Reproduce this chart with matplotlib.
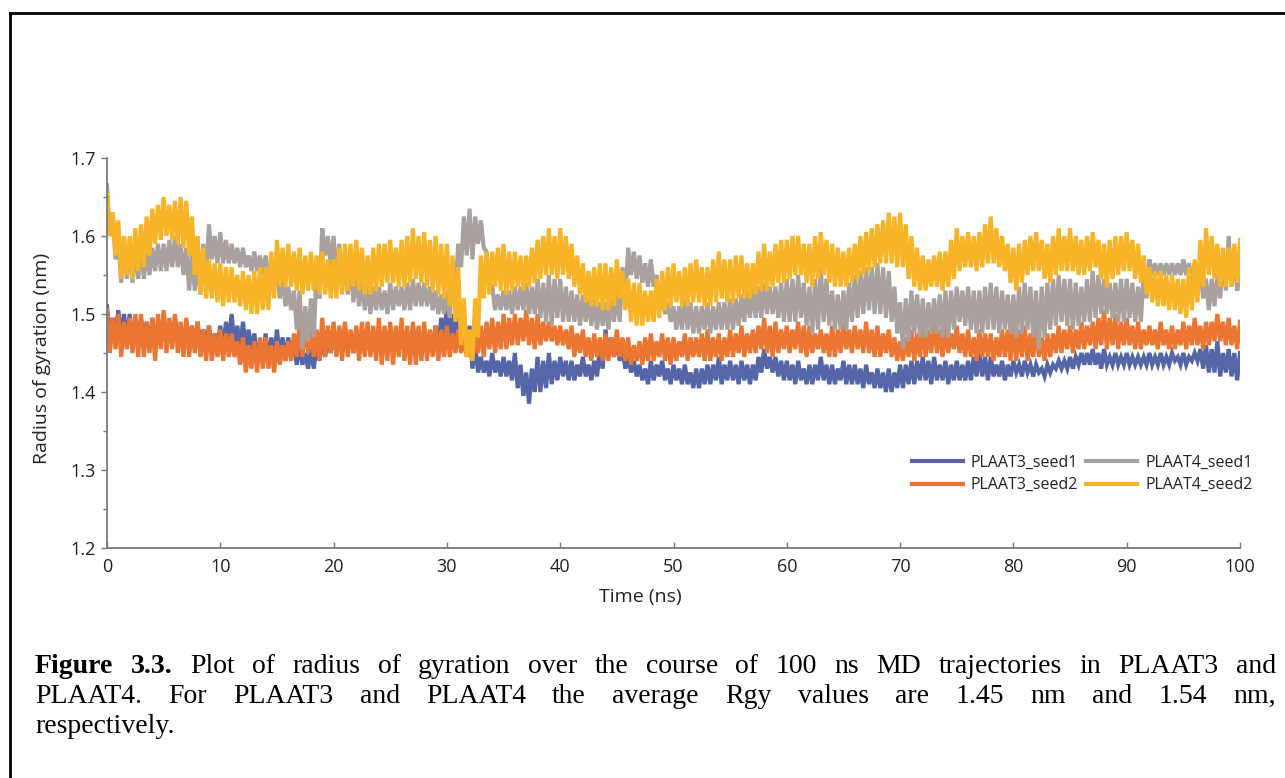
import matplotlib
matplotlib.use("Agg")
import matplotlib.pyplot as plt
from matplotlib.lines import Line2D
from matplotlib.ticker import MultipleLocator
import numpy as np

# radius of gyration (nm), four samples per ns:
# *_hi at t = k, *_lo at k + 0.25, *_hi_b at k + 0.5, *_lo_b at k + 0.75
plaat3_seed1_hi = [
    1.51, 1.505, 1.50, 1.495, 1.495, 1.50, 1.495, 1.49, 1.49, 1.485,
    1.485, 1.50, 1.49, 1.475, 1.475, 1.48, 1.47, 1.46, 1.455, 1.47,
    1.475, 1.485, 1.48, 1.48, 1.485, 1.485, 1.48, 1.485, 1.48, 1.485,
    1.51, 1.495, 1.485, 1.445, 1.45, 1.445, 1.45, 1.425, 1.445, 1.45,
    1.445, 1.44, 1.445, 1.44, 1.48, 1.47, 1.445, 1.435, 1.44, 1.44,
    1.435, 1.435, 1.43, 1.435, 1.445, 1.44, 1.44, 1.435, 1.455, 1.445,
    1.44, 1.44, 1.435, 1.445, 1.435, 1.44, 1.435, 1.435, 1.43, 1.43,
    1.435, 1.44, 1.445, 1.445, 1.44, 1.44, 1.44, 1.45, 1.445, 1.44,
    1.44, 1.44, 1.435, 1.435, 1.44, 1.445, 1.45, 1.455, 1.455, 1.45,
    1.45, 1.445, 1.45, 1.45, 1.45, 1.45, 1.45, 1.46, 1.465, 1.455,
    1.45,
]
plaat3_seed1_lo = [
    1.47, 1.47, 1.465, 1.465, 1.46, 1.46, 1.465, 1.465, 1.455, 1.455,
    1.455, 1.46, 1.455, 1.445, 1.44, 1.445, 1.445, 1.435, 1.43, 1.445,
    1.45, 1.455, 1.455, 1.45, 1.45, 1.45, 1.45, 1.455, 1.455, 1.455,
    1.465, 1.46, 1.43, 1.425, 1.425, 1.42, 1.405, 1.385, 1.40, 1.41,
    1.42, 1.415, 1.42, 1.42, 1.445, 1.44, 1.425, 1.415, 1.415, 1.415,
    1.415, 1.41, 1.405, 1.41, 1.41, 1.415, 1.415, 1.415, 1.43, 1.42,
    1.415, 1.415, 1.41, 1.415, 1.41, 1.41, 1.41, 1.41, 1.405, 1.40,
    1.405, 1.41, 1.415, 1.415, 1.41, 1.415, 1.415, 1.42, 1.42, 1.415,
    1.425, 1.425, 1.425, 1.425, 1.43, 1.43, 1.435, 1.435, 1.435, 1.435,
    1.435, 1.435, 1.435, 1.435, 1.44, 1.435, 1.44, 1.425, 1.42, 1.42,
]
plaat3_seed1_hi_b = [
    1.495, 1.50, 1.49, 1.49, 1.485, 1.49, 1.485, 1.485, 1.48, 1.475,
    1.49, 1.485, 1.48, 1.465, 1.47, 1.47, 1.46, 1.45, 1.46, 1.47,
    1.48, 1.475, 1.475, 1.48, 1.475, 1.48, 1.475, 1.48, 1.475, 1.495,
    1.50, 1.49, 1.46, 1.44, 1.44, 1.44, 1.435, 1.43, 1.44, 1.44,
    1.44, 1.435, 1.435, 1.455, 1.47, 1.455, 1.44, 1.43, 1.435, 1.43,
    1.43, 1.425, 1.43, 1.435, 1.435, 1.435, 1.435, 1.445, 1.445, 1.44,
    1.435, 1.43, 1.435, 1.435, 1.43, 1.435, 1.43, 1.425, 1.425, 1.425,
    1.435, 1.44, 1.44, 1.435, 1.435, 1.435, 1.445, 1.445, 1.435, 1.435,
    1.435, 1.435, 1.43, 1.435, 1.44, 1.445, 1.45, 1.45, 1.445, 1.445,
    1.445, 1.445, 1.445, 1.445, 1.445, 1.445, 1.455, 1.455, 1.45, 1.45,
]
plaat3_seed1_lo_b = [
    1.475, 1.465, 1.47, 1.46, 1.465, 1.465, 1.46, 1.46, 1.46, 1.46,
    1.465, 1.455, 1.45, 1.44, 1.445, 1.44, 1.435, 1.43, 1.44, 1.45,
    1.455, 1.45, 1.45, 1.455, 1.455, 1.455, 1.455, 1.45, 1.46, 1.47,
    1.47, 1.455, 1.425, 1.42, 1.42, 1.415, 1.395, 1.40, 1.405, 1.415,
    1.415, 1.42, 1.415, 1.43, 1.445, 1.43, 1.42, 1.41, 1.42, 1.41,
    1.41, 1.405, 1.41, 1.415, 1.415, 1.41, 1.41, 1.425, 1.425, 1.415,
    1.41, 1.41, 1.415, 1.41, 1.415, 1.41, 1.405, 1.405, 1.40, 1.405,
    1.41, 1.415, 1.41, 1.415, 1.415, 1.415, 1.42, 1.415, 1.42, 1.42,
    1.42, 1.42, 1.42, 1.43, 1.43, 1.435, 1.435, 1.43, 1.435, 1.435,
    1.435, 1.435, 1.435, 1.435, 1.435, 1.44, 1.43, 1.425, 1.425, 1.415,
]

plaat3_seed2_hi = [
    1.505, 1.50, 1.495, 1.50, 1.495, 1.505, 1.50, 1.495, 1.49, 1.485,
    1.48, 1.475, 1.47, 1.465, 1.47, 1.465, 1.465, 1.49, 1.49, 1.495,
    1.49, 1.49, 1.485, 1.49, 1.495, 1.49, 1.495, 1.49, 1.49, 1.485,
    1.485, 1.48, 1.47, 1.485, 1.495, 1.50, 1.50, 1.505, 1.50, 1.49,
    1.485, 1.485, 1.48, 1.475, 1.475, 1.48, 1.47, 1.465, 1.475, 1.475,
    1.47, 1.475, 1.47, 1.48, 1.475, 1.48, 1.485, 1.48, 1.495, 1.49,
    1.485, 1.49, 1.485, 1.48, 1.485, 1.49, 1.485, 1.49, 1.485, 1.48,
    1.465, 1.48, 1.485, 1.49, 1.485, 1.485, 1.48, 1.48, 1.475, 1.48,
    1.49, 1.485, 1.48, 1.475, 1.485, 1.485, 1.49, 1.49, 1.505, 1.50,
    1.495, 1.49, 1.485, 1.49, 1.485, 1.49, 1.495, 1.49, 1.50, 1.495,
    1.49,
]
plaat3_seed2_lo = [
    1.45, 1.445, 1.45, 1.445, 1.44, 1.45, 1.45, 1.445, 1.445, 1.44,
    1.44, 1.445, 1.425, 1.425, 1.43, 1.435, 1.44, 1.445, 1.445, 1.445,
    1.445, 1.445, 1.44, 1.445, 1.435, 1.435, 1.44, 1.435, 1.44, 1.44,
    1.445, 1.45, 1.44, 1.445, 1.45, 1.455, 1.46, 1.46, 1.46, 1.465,
    1.46, 1.445, 1.445, 1.445, 1.44, 1.445, 1.435, 1.435, 1.44, 1.44,
    1.44, 1.44, 1.445, 1.44, 1.44, 1.445, 1.445, 1.45, 1.45, 1.45,
    1.45, 1.45, 1.45, 1.45, 1.445, 1.455, 1.455, 1.45, 1.445, 1.445,
    1.44, 1.44, 1.445, 1.45, 1.45, 1.45, 1.445, 1.445, 1.44, 1.445,
    1.44, 1.44, 1.445, 1.445, 1.45, 1.45, 1.455, 1.455, 1.455, 1.455,
    1.46, 1.455, 1.46, 1.46, 1.455, 1.455, 1.46, 1.46, 1.465, 1.46,
]
plaat3_seed2_hi_b = [
    1.495, 1.49, 1.50, 1.49, 1.50, 1.495, 1.49, 1.485, 1.48, 1.475,
    1.475, 1.465, 1.46, 1.47, 1.46, 1.46, 1.475, 1.485, 1.48, 1.485,
    1.485, 1.48, 1.49, 1.485, 1.485, 1.485, 1.485, 1.485, 1.48, 1.48,
    1.475, 1.47, 1.475, 1.49, 1.49, 1.495, 1.495, 1.495, 1.49, 1.485,
    1.48, 1.475, 1.47, 1.47, 1.47, 1.47, 1.46, 1.47, 1.465, 1.47,
    1.465, 1.47, 1.475, 1.47, 1.47, 1.475, 1.475, 1.485, 1.485, 1.48,
    1.48, 1.485, 1.475, 1.475, 1.48, 1.48, 1.48, 1.48, 1.475, 1.47,
    1.47, 1.475, 1.48, 1.48, 1.475, 1.475, 1.47, 1.475, 1.47, 1.48,
    1.48, 1.475, 1.47, 1.475, 1.48, 1.48, 1.485, 1.495, 1.495, 1.49,
    1.485, 1.48, 1.48, 1.48, 1.48, 1.485, 1.485, 1.49, 1.49, 1.485,
]
plaat3_seed2_lo_b = [
    1.455, 1.455, 1.445, 1.45, 1.455, 1.455, 1.445, 1.45, 1.44, 1.445,
    1.445, 1.435, 1.43, 1.43, 1.425, 1.44, 1.445, 1.45, 1.44, 1.45,
    1.44, 1.45, 1.445, 1.44, 1.44, 1.445, 1.435, 1.44, 1.445, 1.445,
    1.45, 1.445, 1.45, 1.455, 1.455, 1.46, 1.465, 1.455, 1.465, 1.46,
    1.455, 1.45, 1.44, 1.44, 1.445, 1.44, 1.44, 1.44, 1.445, 1.435,
    1.445, 1.445, 1.44, 1.445, 1.445, 1.45, 1.45, 1.455, 1.445, 1.455,
    1.455, 1.445, 1.455, 1.445, 1.45, 1.45, 1.45, 1.445, 1.45, 1.44,
    1.445, 1.445, 1.45, 1.445, 1.455, 1.445, 1.44, 1.445, 1.445, 1.44,
    1.445, 1.445, 1.44, 1.45, 1.455, 1.455, 1.46, 1.46, 1.46, 1.46,
    1.455, 1.46, 1.455, 1.455, 1.46, 1.46, 1.455, 1.465, 1.46, 1.455,
]

plaat4_seed1_hi = [
    1.665, 1.60, 1.59, 1.59, 1.585, 1.59, 1.60, 1.585, 1.57, 1.615,
    1.605, 1.59, 1.585, 1.58, 1.575, 1.56, 1.535, 1.53, 1.52, 1.61,
    1.60, 1.58, 1.555, 1.54, 1.535, 1.54, 1.535, 1.545, 1.54, 1.53,
    1.53, 1.59, 1.635, 1.62, 1.535, 1.53, 1.535, 1.54, 1.545, 1.55,
    1.545, 1.53, 1.525, 1.52, 1.515, 1.53, 1.585, 1.575, 1.57, 1.53,
    1.51, 1.52, 1.51, 1.515, 1.515, 1.52, 1.525, 1.535, 1.54, 1.535,
    1.545, 1.55, 1.535, 1.56, 1.53, 1.53, 1.55, 1.56, 1.565, 1.555,
    1.515, 1.53, 1.52, 1.52, 1.53, 1.535, 1.535, 1.53, 1.54, 1.53,
    1.525, 1.54, 1.53, 1.54, 1.55, 1.545, 1.535, 1.555, 1.545, 1.54,
    1.545, 1.535, 1.57, 1.565, 1.565, 1.57, 1.565, 1.545, 1.55, 1.60,
    1.55,
]
plaat4_seed1_lo = [
    1.60, 1.54, 1.54, 1.545, 1.555, 1.555, 1.56, 1.53, 1.525, 1.57,
    1.565, 1.565, 1.56, 1.555, 1.55, 1.52, 1.505, 1.455, 1.47, 1.575,
    1.545, 1.525, 1.51, 1.50, 1.505, 1.505, 1.505, 1.51, 1.51, 1.50,
    1.495, 1.56, 1.57, 1.585, 1.505, 1.505, 1.505, 1.50, 1.495, 1.485,
    1.49, 1.49, 1.49, 1.48, 1.48, 1.49, 1.55, 1.54, 1.535, 1.50,
    1.48, 1.48, 1.475, 1.475, 1.48, 1.48, 1.49, 1.495, 1.50, 1.495,
    1.49, 1.495, 1.475, 1.49, 1.48, 1.48, 1.495, 1.505, 1.50, 1.49,
    1.455, 1.475, 1.47, 1.475, 1.47, 1.49, 1.48, 1.475, 1.48, 1.48,
    1.47, 1.48, 1.455, 1.48, 1.49, 1.48, 1.49, 1.495, 1.50, 1.49,
    1.495, 1.49, 1.55, 1.55, 1.55, 1.55, 1.53, 1.505, 1.52, 1.535,
]
plaat4_seed1_hi_b = [
    1.63, 1.595, 1.585, 1.58, 1.59, 1.595, 1.59, 1.58, 1.59, 1.60,
    1.595, 1.585, 1.575, 1.575, 1.565, 1.545, 1.53, 1.51, 1.56, 1.60,
    1.59, 1.565, 1.545, 1.535, 1.53, 1.535, 1.54, 1.54, 1.535, 1.525,
    1.56, 1.625, 1.625, 1.58, 1.525, 1.53, 1.535, 1.535, 1.54, 1.545,
    1.535, 1.525, 1.52, 1.515, 1.52, 1.56, 1.58, 1.565, 1.55, 1.515,
    1.51, 1.515, 1.51, 1.51, 1.515, 1.52, 1.53, 1.535, 1.535, 1.54,
    1.545, 1.54, 1.545, 1.545, 1.525, 1.54, 1.555, 1.56, 1.56, 1.535,
    1.52, 1.525, 1.515, 1.525, 1.53, 1.53, 1.53, 1.535, 1.535, 1.525,
    1.535, 1.535, 1.535, 1.545, 1.545, 1.54, 1.545, 1.55, 1.54, 1.545,
    1.54, 1.555, 1.565, 1.565, 1.565, 1.565, 1.555, 1.545, 1.575, 1.575,
]
plaat4_seed1_lo_b = [
    1.57, 1.545, 1.545, 1.55, 1.555, 1.56, 1.55, 1.53, 1.545, 1.565,
    1.565, 1.56, 1.555, 1.55, 1.535, 1.51, 1.48, 1.465, 1.52, 1.56,
    1.53, 1.515, 1.505, 1.505, 1.50, 1.51, 1.505, 1.51, 1.505, 1.50,
    1.525, 1.575, 1.59, 1.54, 1.505, 1.50, 1.505, 1.50, 1.49, 1.495,
    1.49, 1.485, 1.485, 1.485, 1.49, 1.52, 1.545, 1.535, 1.515, 1.49,
    1.48, 1.475, 1.48, 1.48, 1.48, 1.485, 1.495, 1.495, 1.50, 1.49,
    1.49, 1.485, 1.48, 1.485, 1.48, 1.49, 1.50, 1.50, 1.495, 1.475,
    1.465, 1.47, 1.475, 1.47, 1.48, 1.485, 1.475, 1.48, 1.475, 1.475,
    1.475, 1.47, 1.47, 1.485, 1.485, 1.485, 1.49, 1.50, 1.495, 1.49,
    1.49, 1.52, 1.55, 1.55, 1.55, 1.54, 1.52, 1.51, 1.53, 1.53,
]

plaat4_seed2_hi = [
    1.655, 1.62, 1.60, 1.615, 1.635, 1.65, 1.645, 1.645, 1.60, 1.57,
    1.565, 1.56, 1.555, 1.555, 1.56, 1.595, 1.59, 1.585, 1.58, 1.58,
    1.57, 1.59, 1.595, 1.575, 1.59, 1.595, 1.595, 1.61, 1.605, 1.60,
    1.59, 1.56, 1.48, 1.575, 1.58, 1.59, 1.58, 1.575, 1.595, 1.61,
    1.61, 1.59, 1.565, 1.56, 1.565, 1.57, 1.545, 1.54, 1.53, 1.555,
    1.565, 1.56, 1.57, 1.56, 1.58, 1.57, 1.575, 1.565, 1.59, 1.59,
    1.595, 1.60, 1.59, 1.605, 1.59, 1.58, 1.59, 1.605, 1.615, 1.63,
    1.63, 1.60, 1.575, 1.575, 1.58, 1.61, 1.605, 1.605, 1.625, 1.60,
    1.585, 1.595, 1.605, 1.59, 1.61, 1.61, 1.595, 1.605, 1.59, 1.60,
    1.605, 1.59, 1.56, 1.555, 1.55, 1.545, 1.57, 1.61, 1.59, 1.585,
    1.595,
]
plaat4_seed2_lo = [
    1.60, 1.545, 1.545, 1.56, 1.59, 1.60, 1.59, 1.575, 1.525, 1.52,
    1.51, 1.515, 1.505, 1.50, 1.505, 1.535, 1.535, 1.525, 1.53, 1.525,
    1.52, 1.53, 1.53, 1.525, 1.535, 1.54, 1.535, 1.545, 1.535, 1.525,
    1.51, 1.46, 1.44, 1.52, 1.535, 1.525, 1.535, 1.535, 1.545, 1.55,
    1.55, 1.535, 1.515, 1.51, 1.505, 1.52, 1.49, 1.485, 1.49, 1.505,
    1.515, 1.51, 1.515, 1.51, 1.52, 1.515, 1.52, 1.525, 1.53, 1.54,
    1.545, 1.55, 1.535, 1.55, 1.535, 1.535, 1.545, 1.555, 1.565, 1.565,
    1.56, 1.535, 1.53, 1.535, 1.535, 1.555, 1.56, 1.56, 1.565, 1.555,
    1.53, 1.55, 1.555, 1.54, 1.555, 1.555, 1.55, 1.56, 1.535, 1.55,
    1.555, 1.54, 1.515, 1.51, 1.505, 1.495, 1.515, 1.55, 1.535, 1.535,
]
plaat4_seed2_hi_b = [
    1.63, 1.60, 1.61, 1.625, 1.64, 1.64, 1.65, 1.625, 1.585, 1.565,
    1.56, 1.55, 1.55, 1.56, 1.58, 1.585, 1.58, 1.575, 1.575, 1.57,
    1.585, 1.59, 1.585, 1.585, 1.59, 1.585, 1.60, 1.60, 1.595, 1.59,
    1.575, 1.52, 1.52, 1.58, 1.585, 1.58, 1.575, 1.585, 1.60, 1.60,
    1.60, 1.575, 1.555, 1.565, 1.56, 1.555, 1.54, 1.53, 1.545, 1.56,
    1.555, 1.565, 1.56, 1.57, 1.57, 1.575, 1.565, 1.58, 1.58, 1.595,
    1.60, 1.59, 1.60, 1.595, 1.585, 1.585, 1.60, 1.61, 1.62, 1.625,
    1.615, 1.585, 1.57, 1.58, 1.595, 1.60, 1.60, 1.615, 1.61, 1.59,
    1.59, 1.60, 1.595, 1.60, 1.60, 1.60, 1.60, 1.595, 1.595, 1.60,
    1.595, 1.575, 1.555, 1.55, 1.545, 1.56, 1.595, 1.60, 1.585, 1.59,
]
plaat4_seed2_lo_b = [
    1.575, 1.55, 1.555, 1.575, 1.595, 1.595, 1.585, 1.55, 1.52, 1.515,
    1.515, 1.51, 1.50, 1.505, 1.52, 1.535, 1.53, 1.53, 1.525, 1.52,
    1.525, 1.535, 1.525, 1.53, 1.54, 1.535, 1.54, 1.54, 1.53, 1.52,
    1.49, 1.445, 1.47, 1.525, 1.53, 1.53, 1.53, 1.54, 1.55, 1.545,
    1.545, 1.525, 1.51, 1.505, 1.51, 1.505, 1.485, 1.49, 1.495, 1.51,
    1.51, 1.515, 1.51, 1.515, 1.515, 1.52, 1.52, 1.53, 1.535, 1.54,
    1.55, 1.54, 1.545, 1.54, 1.535, 1.54, 1.55, 1.56, 1.565, 1.56,
    1.545, 1.53, 1.535, 1.53, 1.545, 1.56, 1.555, 1.565, 1.56, 1.54,
    1.54, 1.555, 1.545, 1.55, 1.555, 1.55, 1.555, 1.545, 1.545, 1.555,
    1.545, 1.525, 1.51, 1.505, 1.50, 1.505, 1.535, 1.545, 1.535, 1.54,
]

labels = ["PLAAT3_seed1", "PLAAT3_seed2", "PLAAT4_seed1", "PLAAT4_seed2"]
colors = ["#5465a8", "#ec7631", "#a9a19d", "#f8b427"]

caption_lines = [
    [("Figure", True), ("3.3.", True), ("Plot", False), ("of", False), ("radius", False),
     ("of", False), ("gyration", False), ("over", False), ("the", False), ("course", False),
     ("of", False), ("100", False), ("ns", False), ("MD", False), ("trajectories", False),
     ("in", False), ("PLAAT3", False), ("and", False)],
    [(w, False) for w in "PLAAT4. For PLAAT3 and PLAAT4 the average Rgy values are 1.45 nm and 1.54 nm,".split()],
    [("respectively.", False)],
]

W, H = 1285, 778
AX_FONT = "Open Sans"
GREY = "#7a7a7a"
TXT = "#222222"


def interleave(hi, lo, hi_b, lo_b):
    n = len(lo)
    vals = np.empty(4 * n + 1)
    vals[0:-1:4] = hi[:n]
    vals[1::4] = lo
    vals[2::4] = hi_b
    vals[3::4] = lo_b
    vals[-1] = hi[n]
    return vals


def place_line(fig, words, y_px, x0_px, x1_px, justify, size):
    renderer = fig.canvas.get_renderer()
    texts = []
    for word, bold in words:
        t = fig.text(0, 1 - y_px / H, word, fontsize=size, family="Liberation Serif",
                     weight="bold" if bold else "normal", va="baseline", ha="left")
        texts.append(t)
    widths = [t.get_window_extent(renderer).width for t in texts]
    if justify and len(texts) > 1:
        gap = (x1_px - x0_px - sum(widths)) / (len(texts) - 1)
    else:
        gap = size * 0.25 * 100 / 72
    x = x0_px
    for t, w in zip(texts, widths):
        t.set_x(x / W)
        x += w + gap


time_ns = np.arange(0, 100.001, 0.25)
series = [
    interleave(plaat3_seed1_hi, plaat3_seed1_lo, plaat3_seed1_hi_b, plaat3_seed1_lo_b),
    interleave(plaat3_seed2_hi, plaat3_seed2_lo, plaat3_seed2_hi_b, plaat3_seed2_lo_b),
    interleave(plaat4_seed1_hi, plaat4_seed1_lo, plaat4_seed1_hi_b, plaat4_seed1_lo_b),
    interleave(plaat4_seed2_hi, plaat4_seed2_lo, plaat4_seed2_hi_b, plaat4_seed2_lo_b),
]

fig = plt.figure(figsize=(W / 100, H / 100), dpi=100)
ax = fig.add_axes([107 / W, 1 - 548 / H, (1240 - 107) / W, (548 - 158) / H])

for vals, label, color in zip(series, labels, colors):
    ax.plot(time_ns, vals, color=color, lw=3.0, label=label, solid_joinstyle="miter")

ax.set_xlim(0, 100)
ax.set_ylim(1.2, 1.7)
ax.xaxis.set_major_locator(MultipleLocator(10))
ax.yaxis.set_major_locator(MultipleLocator(0.1))
ax.yaxis.set_minor_locator(MultipleLocator(0.05))
ax.yaxis.set_major_formatter(plt.FuncFormatter(lambda v, _: f"{v:.1f}"))

for side in ["top", "right"]:
    ax.spines[side].set_visible(False)
for side in ["left", "bottom"]:
    ax.spines[side].set_color(GREY)
    ax.spines[side].set_linewidth(1.3)

ax.tick_params(axis="y", which="major", direction="out", length=4, width=1, color=GREY,
               labelsize=13, pad=4, labelcolor=TXT)
ax.tick_params(axis="y", which="minor", direction="out", length=3, width=1, color=GREY)
ax.tick_params(axis="x", which="major", direction="in", length=4, width=1, color=GREY,
               labelsize=13, pad=7, labelcolor=TXT)
for lbl in ax.get_xticklabels() + ax.get_yticklabels():
    lbl.set_family(AX_FONT)

fig.text(42 / W, 1 - 358 / H, "Radius of gyration (nm)", rotation=90, ha="center", va="center",
         fontsize=14, family=AX_FONT, color=TXT)
fig.text(640 / W, 1 - 597 / H, "Time (ns)", ha="center", va="center",
         fontsize=14, family=AX_FONT, color=TXT)

leg = ax.legend(ncol=2, frameon=False, loc="center", bbox_to_anchor=(1082 / W, 1 - 474 / H),
                bbox_transform=fig.transFigure, prop={"family": AX_FONT, "size": 11.5},
                handlelength=3.2, handletextpad=0.5, columnspacing=0.5, labelspacing=0.4)
for line in leg.get_lines():
    line.set_linewidth(3)
for txt in leg.get_texts():
    txt.set_color(TXT)

# page border (top and left edges of the boxed figure)
fig.add_artist(Line2D([10 / W, 1], [1 - 13 / H, 1 - 13 / H], transform=fig.transFigure,
                      color="black", lw=2))
fig.add_artist(Line2D([10 / W, 10 / W], [0, 1 - 13 / H], transform=fig.transFigure,
                      color="black", lw=2))

fig.canvas.draw()
caption_y = [673, 703, 733]
for words, y, just in zip(caption_lines, caption_y, [True, True, False]):
    place_line(fig, words, y, 35, 1276, just, 20)

fig.savefig("out.png", dpi=100)
